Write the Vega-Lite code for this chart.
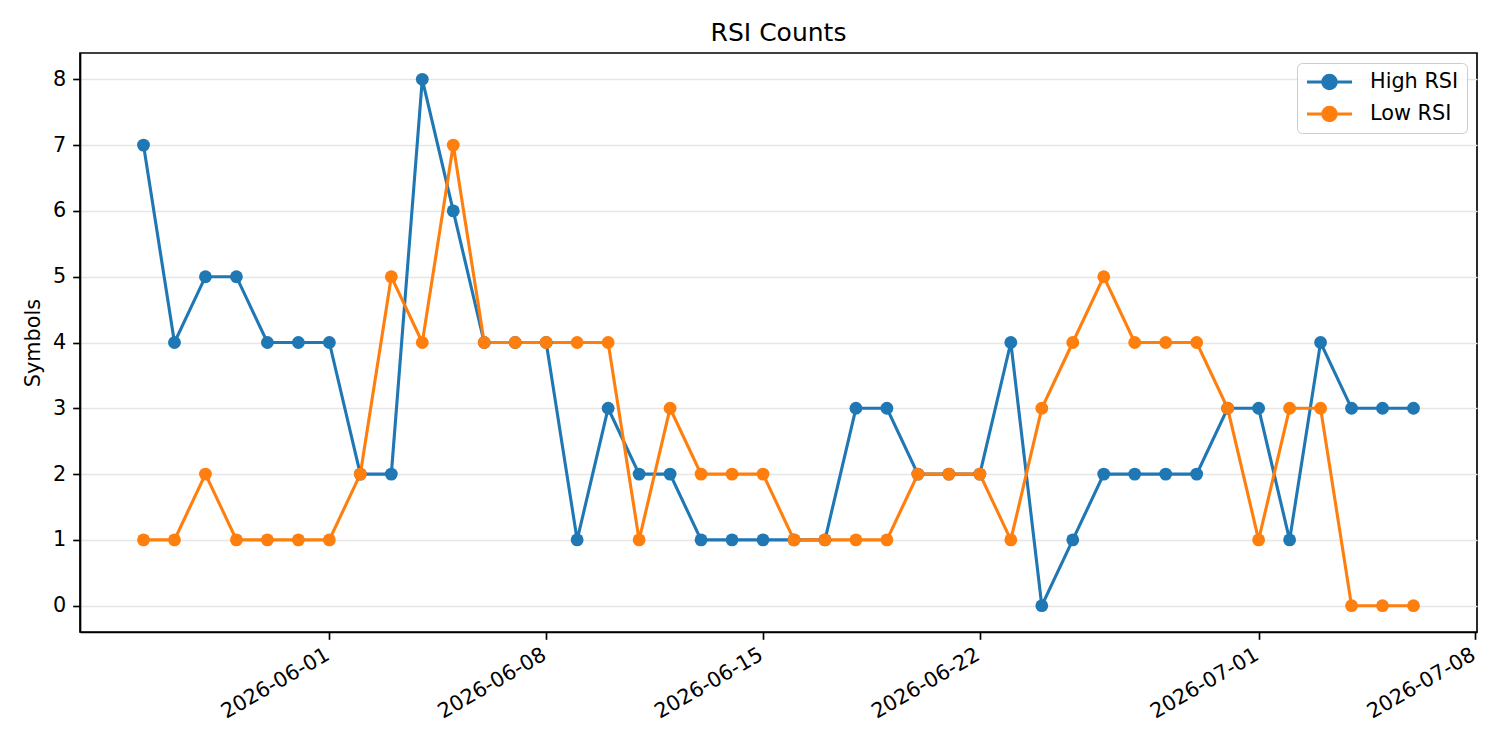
{
  "$schema": "https://vega.github.io/schema/vega-lite/v6.json",
  "autosize": "none",
  "width": 1397,
  "height": 579,
  "padding": {"left": 80, "top": 53, "right": 23, "bottom": 118},
  "background": "white",
  "title": {"text": "RSI Counts", "fontSize": 25, "font": "DejaVu Sans", "fontWeight": "normal", "color": "black", "offset": 7, "anchor": "middle"},
  "config": {
    "view": {"stroke": "black", "strokeWidth": 1.67},
    "font": "DejaVu Sans",
    "axis": {"labelFont": "DejaVu Sans", "titleFont": "DejaVu Sans", "labelColor": "black", "titleColor": "black", "domainColor": "black", "domainWidth": 1.67, "tickColor": "black", "tickWidth": 1.67, "tickSize": 7.3, "labelFontSize": 20.8, "titleFontSize": 20.8, "titleFontWeight": "normal", "labelPadding": 7}
  },
  "data": {
    "values": [
      {"date": "2026-05-26", "series": "High RSI", "count": 7},
      {"date": "2026-05-27", "series": "High RSI", "count": 4},
      {"date": "2026-05-28", "series": "High RSI", "count": 5},
      {"date": "2026-05-29", "series": "High RSI", "count": 5},
      {"date": "2026-05-30", "series": "High RSI", "count": 4},
      {"date": "2026-05-31", "series": "High RSI", "count": 4},
      {"date": "2026-06-01", "series": "High RSI", "count": 4},
      {"date": "2026-06-02", "series": "High RSI", "count": 2},
      {"date": "2026-06-03", "series": "High RSI", "count": 2},
      {"date": "2026-06-04", "series": "High RSI", "count": 8},
      {"date": "2026-06-05", "series": "High RSI", "count": 6},
      {"date": "2026-06-06", "series": "High RSI", "count": 4},
      {"date": "2026-06-07", "series": "High RSI", "count": 4},
      {"date": "2026-06-08", "series": "High RSI", "count": 4},
      {"date": "2026-06-09", "series": "High RSI", "count": 1},
      {"date": "2026-06-10", "series": "High RSI", "count": 3},
      {"date": "2026-06-11", "series": "High RSI", "count": 2},
      {"date": "2026-06-12", "series": "High RSI", "count": 2},
      {"date": "2026-06-13", "series": "High RSI", "count": 1},
      {"date": "2026-06-14", "series": "High RSI", "count": 1},
      {"date": "2026-06-15", "series": "High RSI", "count": 1},
      {"date": "2026-06-16", "series": "High RSI", "count": 1},
      {"date": "2026-06-17", "series": "High RSI", "count": 1},
      {"date": "2026-06-18", "series": "High RSI", "count": 3},
      {"date": "2026-06-19", "series": "High RSI", "count": 3},
      {"date": "2026-06-20", "series": "High RSI", "count": 2},
      {"date": "2026-06-21", "series": "High RSI", "count": 2},
      {"date": "2026-06-22", "series": "High RSI", "count": 2},
      {"date": "2026-06-23", "series": "High RSI", "count": 4},
      {"date": "2026-06-24", "series": "High RSI", "count": 0},
      {"date": "2026-06-25", "series": "High RSI", "count": 1},
      {"date": "2026-06-26", "series": "High RSI", "count": 2},
      {"date": "2026-06-27", "series": "High RSI", "count": 2},
      {"date": "2026-06-28", "series": "High RSI", "count": 2},
      {"date": "2026-06-29", "series": "High RSI", "count": 2},
      {"date": "2026-06-30", "series": "High RSI", "count": 3},
      {"date": "2026-07-01", "series": "High RSI", "count": 3},
      {"date": "2026-07-02", "series": "High RSI", "count": 1},
      {"date": "2026-07-03", "series": "High RSI", "count": 4},
      {"date": "2026-07-04", "series": "High RSI", "count": 3},
      {"date": "2026-07-05", "series": "High RSI", "count": 3},
      {"date": "2026-07-06", "series": "High RSI", "count": 3},
      {"date": "2026-05-26", "series": "Low RSI", "count": 1},
      {"date": "2026-05-27", "series": "Low RSI", "count": 1},
      {"date": "2026-05-28", "series": "Low RSI", "count": 2},
      {"date": "2026-05-29", "series": "Low RSI", "count": 1},
      {"date": "2026-05-30", "series": "Low RSI", "count": 1},
      {"date": "2026-05-31", "series": "Low RSI", "count": 1},
      {"date": "2026-06-01", "series": "Low RSI", "count": 1},
      {"date": "2026-06-02", "series": "Low RSI", "count": 2},
      {"date": "2026-06-03", "series": "Low RSI", "count": 5},
      {"date": "2026-06-04", "series": "Low RSI", "count": 4},
      {"date": "2026-06-05", "series": "Low RSI", "count": 7},
      {"date": "2026-06-06", "series": "Low RSI", "count": 4},
      {"date": "2026-06-07", "series": "Low RSI", "count": 4},
      {"date": "2026-06-08", "series": "Low RSI", "count": 4},
      {"date": "2026-06-09", "series": "Low RSI", "count": 4},
      {"date": "2026-06-10", "series": "Low RSI", "count": 4},
      {"date": "2026-06-11", "series": "Low RSI", "count": 1},
      {"date": "2026-06-12", "series": "Low RSI", "count": 3},
      {"date": "2026-06-13", "series": "Low RSI", "count": 2},
      {"date": "2026-06-14", "series": "Low RSI", "count": 2},
      {"date": "2026-06-15", "series": "Low RSI", "count": 2},
      {"date": "2026-06-16", "series": "Low RSI", "count": 1},
      {"date": "2026-06-17", "series": "Low RSI", "count": 1},
      {"date": "2026-06-18", "series": "Low RSI", "count": 1},
      {"date": "2026-06-19", "series": "Low RSI", "count": 1},
      {"date": "2026-06-20", "series": "Low RSI", "count": 2},
      {"date": "2026-06-21", "series": "Low RSI", "count": 2},
      {"date": "2026-06-22", "series": "Low RSI", "count": 2},
      {"date": "2026-06-23", "series": "Low RSI", "count": 1},
      {"date": "2026-06-24", "series": "Low RSI", "count": 3},
      {"date": "2026-06-25", "series": "Low RSI", "count": 4},
      {"date": "2026-06-26", "series": "Low RSI", "count": 5},
      {"date": "2026-06-27", "series": "Low RSI", "count": 4},
      {"date": "2026-06-28", "series": "Low RSI", "count": 4},
      {"date": "2026-06-29", "series": "Low RSI", "count": 4},
      {"date": "2026-06-30", "series": "Low RSI", "count": 3},
      {"date": "2026-07-01", "series": "Low RSI", "count": 1},
      {"date": "2026-07-02", "series": "Low RSI", "count": 3},
      {"date": "2026-07-03", "series": "Low RSI", "count": 3},
      {"date": "2026-07-04", "series": "Low RSI", "count": 0},
      {"date": "2026-07-05", "series": "Low RSI", "count": 0},
      {"date": "2026-07-06", "series": "Low RSI", "count": 0}
    ],
    "format": {"parse": {"date": "utc:'%Y-%m-%d'"}}
  },
  "encoding": {
    "x": {
      "field": "date", "type": "temporal",
      "scale": {"type": "utc", "domain": [{"year": 2026, "month": 5, "date": 23, "hours": 22, "minutes": 48, "utc": true}, {"year": 2026, "month": 7, "date": 8, "hours": 1, "minutes": 12, "utc": true}], "nice": false},
      "axis": {
        "title": null, "grid": false, "format": "%Y-%m-%d",
        "values": [{"year": 2026, "month": 6, "date": 1, "utc": true}, {"year": 2026, "month": 6, "date": 8, "utc": true}, {"year": 2026, "month": 6, "date": 15, "utc": true}, {"year": 2026, "month": 6, "date": 22, "utc": true}, {"year": 2026, "month": 7, "date": 1, "utc": true}, {"year": 2026, "month": 7, "date": 8, "utc": true}],
        "labelAngle": -30, "labelAlign": "right", "labelBaseline": "top", "labelOffset": -7, "labelPadding": 5, "labelOverlap": false, "labelFlush": false
      }
    },
    "y": {
      "field": "count", "type": "quantitative",
      "scale": {"domain": [-0.4, 8.4], "nice": false, "zero": false},
      "axis": {"title": "Symbols", "values": [0, 1, 2, 3, 4, 5, 6, 7, 8], "grid": true, "gridColor": "#e6e6e6", "gridWidth": 1.67, "titlePadding": 9}
    },
    "color": {
      "field": "series", "type": "nominal",
      "scale": {"domain": ["High RSI", "Low RSI"], "range": ["#1f77b4", "#ff7f0e"]},
      "legend": {
        "title": null, "orient": "top-right", "offset": 10,
        "symbolType": "M-1,0L1,0M-0.3,0A0.3,0.3,0,1,1,0.3,0A0.3,0.3,0,1,1,-0.3,0Z",
        "symbolSize": 2025, "symbolStrokeWidth": 3.1, "clipHeight": 22, "rowPadding": 10,
        "labelOffset": 16, "labelFontSize": 20.8, "labelFont": "DejaVu Sans", "labelColor": "black",
        "padding": 8, "strokeColor": "#cccccc", "fillColor": "rgba(255,255,255,0.8)", "cornerRadius": 5,
        "encode": {"symbols": {"update": {"fill": {"scale": "color", "field": "value"}, "stroke": {"scale": "color", "field": "value"}, "strokeWidth": {"value": 3.1}, "opacity": {"value": 1}}}}
      }
    }
  },
  "layer": [
    {"mark": {"type": "line", "strokeWidth": 3.1}},
    {"mark": {"type": "point", "filled": true, "size": 165, "opacity": 1, "shape": "circle"}}
  ]
}
